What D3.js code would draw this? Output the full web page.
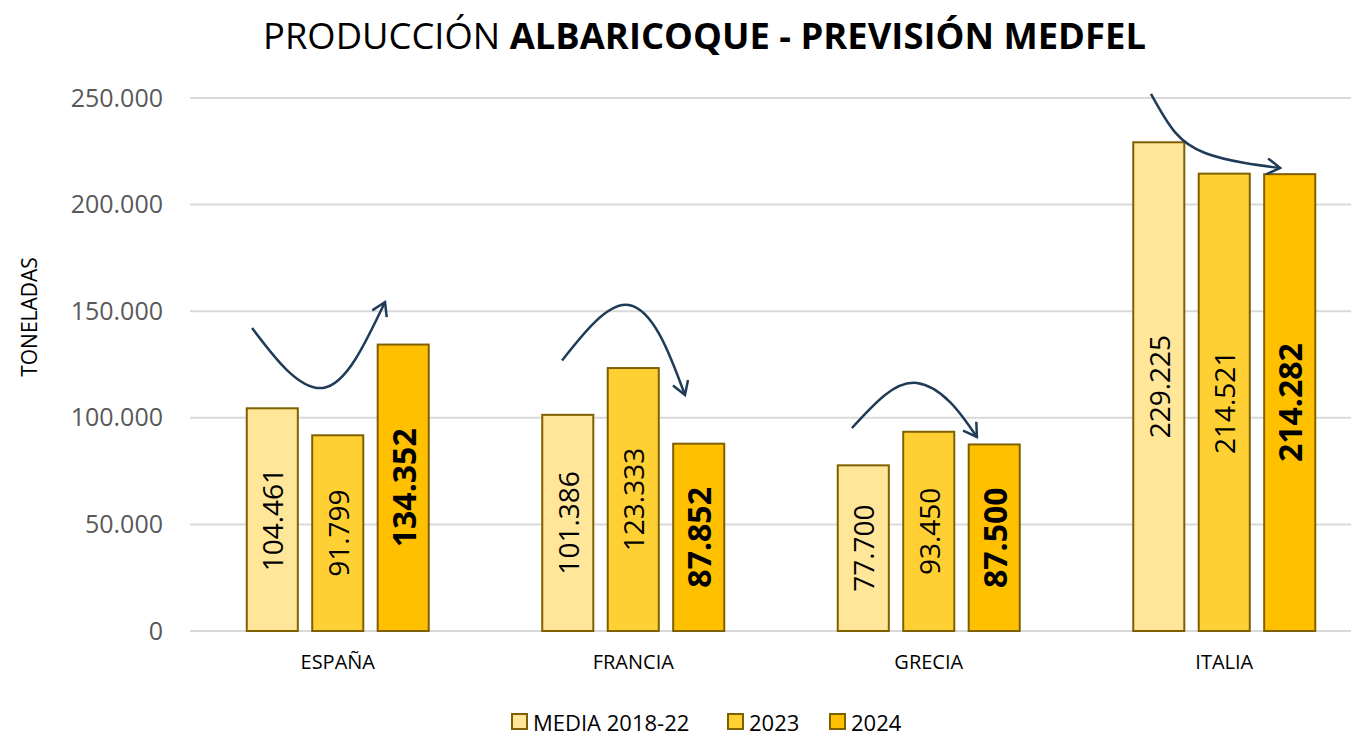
<!DOCTYPE html>
<html>
<head>
<meta charset="utf-8">
<script src="https://cdn.jsdelivr.net/npm/d3@7"></script>
<style>
  html, body { margin: 0; padding: 0; background: #fff; }
  svg { display: block; }
</style>
</head>
<body>
<svg id="chart" width="1351" height="736"></svg>
<script>
// Production data (tonnes) by country and season
const countries = ["ESPAÑA", "FRANCIA", "GRECIA", "ITALIA"];
const seriesNames = ["MEDIA 2018-22", "2023", "2024"];
const media1822 = [104461, 101386, 77700, 229225];
const y2023 = [91799, 123333, 93450, 214521];
const y2024 = [134352, 87852, 87500, 214282];
const yTicks = [0, 50000, 100000, 150000, 200000, 250000];
const seriesColors = ["#FFE699", "#FFD033", "#FFC000"];

// Trend arrows: [position within country band (0-1), value]
const trendArrows = [
  { country: "ESPAÑA",  pts: [[0.21, 142100], [0.328, 122400], [0.45, 114000], [0.558, 127100], [0.66, 154300]] },
  { country: "FRANCIA", pts: [[0.259, 126900], [0.37, 144900], [0.485, 152900], [0.59, 138800], [0.675, 110700]] },
  { country: "GRECIA",  pts: [[0.24, 95200], [0.352, 110700], [0.46, 116300], [0.572, 107400], [0.663, 91000]] },
  { country: "ITALIA",  pts: [[0.252, 251900], [0.333, 234000], [0.435, 224200], [0.57, 219500], [0.689, 217200]] }
];

const allSeries = [media1822, y2023, y2024];
const table = countries.map((c, i) => ({
  country: c,
  values: seriesNames.map((s, k) => ({ series: s, k, value: allSeries[k][i] }))
}));

const svg = d3.select("#chart");
const margin = { left: 190, right: -21, top: 98, bottom: 105 };
const W = 1351, H = 736;
const plotBottom = H - margin.bottom;   // 631

const x0 = d3.scaleBand().domain(countries).range([margin.left, W - margin.right]).padding(0);
const groupW = 182;
const x1 = d3.scaleBand().domain(seriesNames)
  .range([(x0.bandwidth() - groupW) / 2, (x0.bandwidth() + groupW) / 2])
  .paddingInner(0.22).paddingOuter(0);
const y = d3.scaleLinear().domain([0, 250000]).range([plotBottom, margin.top]);

const fmt = d3.formatLocale({ decimal: ",", thousands: ".", grouping: [3], currency: ["", "€"] }).format(",d");
const FONT = "'Open Sans', 'Noto Sans', sans-serif";

// Gridlines
svg.append("g")
  .selectAll("line")
  .data(yTicks)
  .join("line")
  .attr("x1", margin.left).attr("x2", W)
  .attr("y1", d => y(d)).attr("y2", d => y(d))
  .attr("stroke", "#d9d9d9").attr("stroke-width", 2);

// Y axis labels
const yAxis = d3.axisLeft(y).tickValues(yTicks).tickFormat(fmt).tickSize(0).tickPadding(0);
const gy = svg.append("g").attr("transform", `translate(163,0)`).call(yAxis);
gy.select(".domain").remove();
gy.selectAll("text")
  .attr("font-family", FONT).attr("font-size", 25).attr("fill", "#595959");

// Y axis title
svg.append("text")
  .attr("transform", `translate(37,${317}) rotate(-90)`)
  .attr("text-anchor", "middle")
  .attr("font-family", FONT).attr("font-size", 21).attr("fill", "#000")
  .text("TONELADAS");

// X axis labels
const xAxis = d3.axisBottom(x0).tickSize(0).tickPadding(0);
const gx = svg.append("g").attr("transform", `translate(0,${plotBottom})`).call(xAxis);
gx.select(".domain").remove();
gx.selectAll("text")
  .attr("y", 31).attr("dy", "0.35em")
  .attr("font-family", FONT).attr("font-size", 20).attr("fill", "#000");

// Bars
const groups = svg.append("g")
  .selectAll("g")
  .data(table)
  .join("g")
  .attr("transform", d => `translate(${x0(d.country)},0)`);

groups.selectAll("rect")
  .data(d => d.values)
  .join("rect")
  .attr("x", d => x1(d.series))
  .attr("y", d => y(d.value))
  .attr("width", x1.bandwidth())
  .attr("height", d => y(0) - y(d.value))
  .attr("fill", d => seriesColors[d.k])
  .attr("stroke", "#7F6000")
  .attr("stroke-width", 2);

// Value labels, rotated inside bars
groups.selectAll("text.val")
  .data(d => d.values)
  .join("text")
  .attr("class", "val")
  .attr("transform", d => `translate(${x1(d.series) + x1.bandwidth() / 2},${(y(d.value) + y(0)) / 2}) rotate(-90)`)
  .attr("text-anchor", "middle")
  .attr("dominant-baseline", "central")
  .attr("font-family", FONT)
  .attr("font-size", d => d.k === 2 ? 32 : 28)
  .attr("font-weight", d => d.k === 2 ? 700 : 400)
  .attr("fill", "#000")
  .text(d => fmt(d.value));

// Trend arrows
const defs = svg.append("defs");
defs.append("marker")
  .attr("id", "arrowhead")
  .attr("markerUnits", "userSpaceOnUse")
  .attr("viewBox", "-14 -9 16 18")
  .attr("markerWidth", 16).attr("markerHeight", 18)
  .attr("refX", 0).attr("refY", 0)
  .attr("orient", "auto")
  .append("path")
  .attr("d", "M-13,-8 L0,0 L-13,8")
  .attr("fill", "none")
  .attr("stroke", "#1F3B57")
  .attr("stroke-width", 2.5)
  .attr("stroke-linejoin", "miter");

const arrowLine = d3.line().curve(d3.curveNatural);
svg.append("g")
  .selectAll("path")
  .data(trendArrows)
  .join("path")
  .attr("d", a => arrowLine(a.pts.map(([f, v]) => [x0(a.country) + f * x0.bandwidth(), y(v)])))
  .attr("fill", "none")
  .attr("stroke", "#1F3B57")
  .attr("stroke-width", 2.5)
  .attr("marker-end", "url(#arrowhead)");

// Title
const title = svg.append("text")
  .attr("x", 263).attr("y", 49)
  .attr("font-family", FONT).attr("font-size", 36).attr("fill", "#000");
title.append("tspan").attr("font-weight", 400).text("PRODUCCIÓN ");
title.append("tspan").attr("font-weight", 700).text("ALBARICOQUE - PREVISIÓN MEDFEL");
const tw = title.node().getComputedTextLength();
const targetW = 883;
title.attr("transform", `translate(263,0) scale(${targetW / tw},1) translate(-263,0)`);

// Legend
const legendItems = [
  { name: seriesNames[0], k: 0, x: 512 },
  { name: seriesNames[1], k: 1, x: 728 },
  { name: seriesNames[2], k: 2, x: 830 }
];
const lg = svg.append("g").selectAll("g").data(legendItems).join("g")
  .attr("transform", d => `translate(${d.x},${714})`);
lg.append("rect")
  .attr("width", 15).attr("height", 15)
  .attr("fill", d => seriesColors[d.k])
  .attr("stroke", "#7F6000").attr("stroke-width", 2);
lg.append("text")
  .attr("x", 21).attr("y", 7.5)
  .attr("dominant-baseline", "central")
  .attr("font-family", FONT).attr("font-size", 22).attr("fill", "#000")
  .text(d => d.name);
</script>
</body>
</html>
